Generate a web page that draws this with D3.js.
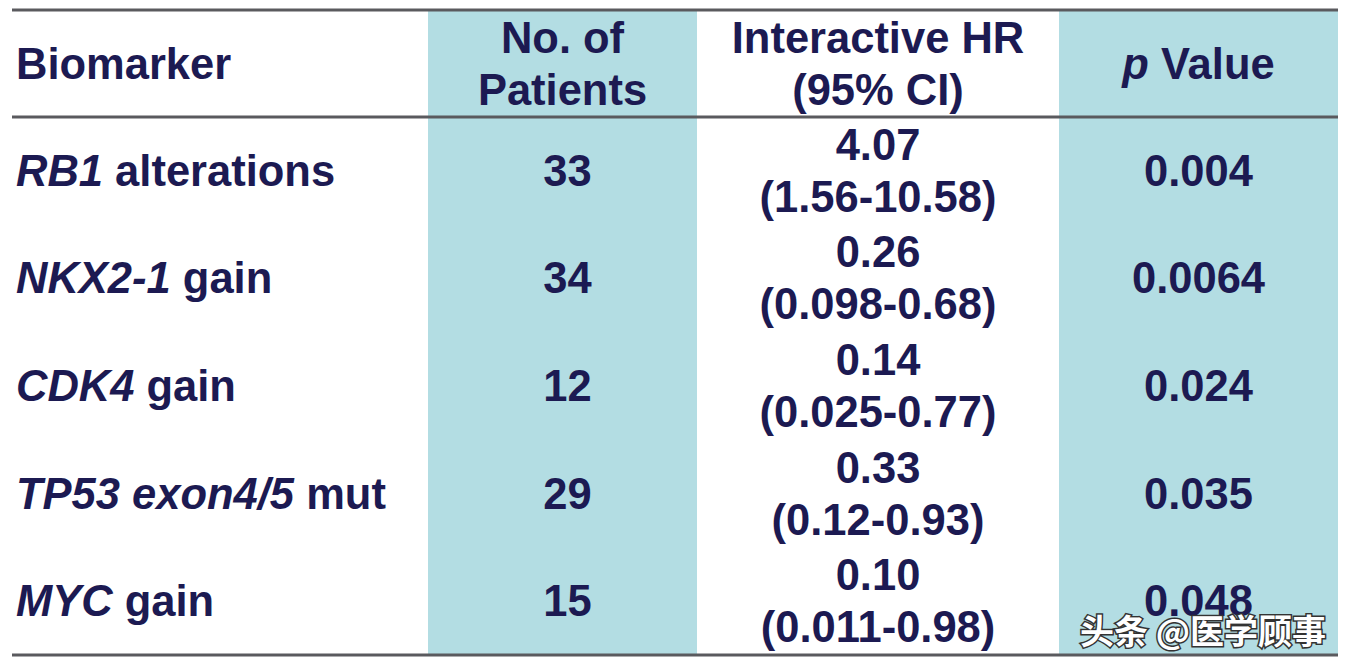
<!DOCTYPE html>
<html>
<head>
<meta charset="utf-8">
<script src="https://cdn.jsdelivr.net/npm/d3@7"></script>
<style>
  html, body { margin: 0; padding: 0; background: #fff; }
  svg text { font-family: "Liberation Sans", Arial, sans-serif; font-weight: bold; fill: #1c1a52; }
</style>
</head>
<body>
<svg id="tbl" width="1348" height="670"></svg>
<script>
// table data
var geneNames = ["RB1", "NKX2-1", "CDK4", "TP53 exon4/5", "MYC"];
var geneSuffix = [" alterations", " gain", " gain", " mut", " gain"];
var patients = [33, 34, 12, 29, 15];
var hrValues = ["4.07", "0.26", "0.14", "0.33", "0.10"];
var ciLow = ["1.56", "0.098", "0.025", "0.12", "0.011"];
var ciHigh = ["10.58", "0.68", "0.77", "0.93", "0.98"];
var pValues = ["0.004", "0.0064", "0.024", "0.035", "0.048"];

// layout
var left = 12, right = 1338;
var topY = 10, headY = 117, bottomY = 655;
var colEdges = [left, 428, 697, 1059, right];
var teal = "#b3dde3";
var FS = 43.5;

var svg = d3.select("#tbl");

var y = d3.scaleBand()
  .domain(d3.range(geneNames.length))
  .range([headY, bottomY]);

// shaded columns (patients, p value)
[1, 3].forEach(function(c) {
  svg.append("rect")
    .attr("x", colEdges[c])
    .attr("y", topY)
    .attr("width", colEdges[c+1] - colEdges[c])
    .attr("height", bottomY - topY)
    .attr("fill", teal);
});

// horizontal rules
[topY, headY, bottomY].forEach(function(yy) {
  svg.append("line")
    .attr("x1", left).attr("x2", right)
    .attr("y1", yy).attr("y2", yy)
    .attr("stroke", "#5a5a5e")
    .attr("stroke-width", 3);
});

function colMid(c) { return (colEdges[c] + colEdges[c+1]) / 2; }

// header
var hMid = (topY + headY) / 2;
svg.append("text")
  .attr("x", 16).attr("y", hMid + 15)
  .attr("font-size", FS)
  .text("Biomarker");

function twoLine(x, yc, a, b) {
  var t = svg.append("text")
    .attr("text-anchor", "middle")
    .attr("font-size", FS);
  t.append("tspan").attr("x", x).attr("y", yc - 11).text(a);
  t.append("tspan").attr("x", x).attr("y", yc + 41).text(b);
}
twoLine(colMid(1), hMid, "No. of", "Patients");
twoLine(colMid(2), hMid, "Interactive HR", "(95% CI)");

var pt = svg.append("text")
  .attr("x", colMid(3)).attr("y", hMid + 15)
  .attr("text-anchor", "middle")
  .attr("font-size", FS);
pt.append("tspan").attr("font-style", "italic").text("p");
pt.append("tspan").text(" Value");

// rows
geneNames.forEach(function(g, i) {
  var yc = y(i) + y.bandwidth() / 2;

  var bt = svg.append("text")
    .attr("x", 16).attr("y", yc + 15)
    .attr("font-size", FS);
  bt.append("tspan").attr("font-style", "italic").text(g);
  bt.append("tspan").text(geneSuffix[i]);

  svg.append("text")
    .attr("x", colMid(1) + 5).attr("y", yc + 15)
    .attr("text-anchor", "middle")
    .attr("font-size", FS)
    .text(patients[i]);

  twoLine(colMid(2), yc, hrValues[i], "(" + ciLow[i] + "-" + ciHigh[i] + ")");

  svg.append("text")
    .attr("x", colMid(3)).attr("y", yc + 15)
    .attr("text-anchor", "middle")
    .attr("font-size", FS)
    .text(pValues[i]);
});

// watermark (sits over the last p value, as in the source image)
svg.append("text")
  .attr("x", 1080).attr("y", 644)
  .attr("font-size", 34)
  .attr("style", "fill:#fff; paint-order:stroke; stroke:#333; stroke-width:3px; font-family:'Noto Sans CJK SC', sans-serif; font-weight:bold")
  .text("头条 @医学顾事");
</script>
</body>
</html>
